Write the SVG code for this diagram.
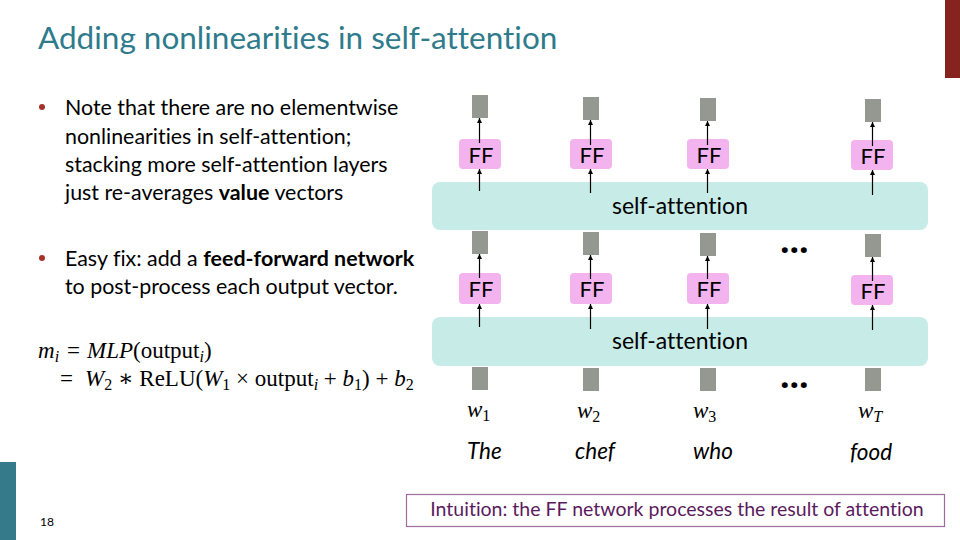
<svg xmlns="http://www.w3.org/2000/svg" width="960" height="540" viewBox="0 0 960 540">
<defs>
<marker id="ah" viewBox="0 0 10 10" refX="10" refY="5" markerWidth="5" markerHeight="6" orient="auto" markerUnits="userSpaceOnUse">
<path d="M0,0 L10,5 L0,10 z" fill="#000"/>
</marker>
</defs>
<style>
text{font-variant-ligatures:none;}
.t{font-family:Lato,"Open Sans","Liberation Sans",sans-serif;}
.body{font-size:21.4px;fill:#000;}
.vec{fill:#959891;}
.ff{fill:#F2B3EF;}
.ffl{font-family:Lato,"Open Sans","Liberation Sans",sans-serif;font-size:22px;fill:#000;text-anchor:middle;}
.sa{fill:#C7ECE7;}
.sal{font-family:Lato,"Open Sans","Liberation Sans",sans-serif;font-size:23px;fill:#000;text-anchor:middle;}
.ar{stroke:#000;stroke-width:1.2;fill:none;marker-end:url(#ah);}
.m{font-family:"Liberation Serif","DejaVu Serif",serif;font-size:23px;fill:#000;}
.wl{font-family:"Liberation Serif","DejaVu Serif",serif;font-size:23px;font-style:italic;fill:#000;}
.word{font-family:Lato,"Open Sans","Liberation Sans",sans-serif;font-size:22.5px;font-style:italic;fill:#000;}
.dots{font-family:"Noto Sans","Open Sans",sans-serif;font-size:34px;font-weight:bold;fill:#000;}
</style>
<rect x="0" y="0" width="960" height="540" fill="#fff"/>
<rect x="945" y="0" width="15" height="78" fill="#87231F"/>
<rect x="0" y="462" width="16" height="78" fill="#357A8A"/>
<text x="38" y="49" class="t" font-size="31.5" fill="#2F7B8C">Adding nonlinearities in self-attention</text>
<text x="40" y="526" class="t" font-size="12" fill="#000">18</text>

<g id="bullets">
<circle cx="42" cy="107" r="3" fill="#A3322A"/>
<text class="t body" x="65" y="115">Note that there are no elementwise</text>
<text class="t body" x="65" y="143.5">nonlinearities in self-attention;</text>
<text class="t body" x="65" y="172">stacking more self-attention layers</text>
<text class="t body" x="65" y="200">just re-averages <tspan font-weight="bold">value</tspan> vectors</text>
<circle cx="42" cy="258" r="3" fill="#A3322A"/>
<text class="t body" x="65" y="266">Easy fix: add a <tspan font-weight="bold">feed-forward network</tspan></text>
<text class="t body" x="65" y="294">to post-process each output vector.</text>
</g>

<g id="formula">
<text class="m" x="38" y="358"><tspan font-style="italic">m</tspan><tspan font-style="italic" font-size="16" dy="4">i</tspan><tspan x="67" dy="-4">=</tspan><tspan x="87" font-style="italic">MLP</tspan>(output<tspan font-style="italic" font-size="16" dy="4">i</tspan><tspan dy="-4">)</tspan></text>
<text class="m" x="60" y="386">=<tspan x="85" font-style="italic">W</tspan><tspan font-size="16" dy="4">2</tspan><tspan dy="-4"> ∗ ReLU(</tspan><tspan font-style="italic">W</tspan><tspan font-size="16" dy="4">1</tspan><tspan dy="-4"> × output</tspan><tspan font-style="italic" font-size="16" dy="4">i</tspan><tspan dy="-4"> + </tspan><tspan font-style="italic">b</tspan><tspan font-size="16" dy="4">1</tspan><tspan dy="-4">) + </tspan><tspan font-style="italic">b</tspan><tspan font-size="16" dy="4">2</tspan></text>
</g>

<g id="selfattn-top">
<rect class="sa" x="432" y="182" width="496" height="48" rx="8"/>
<text class="sal" x="680" y="214">self-attention</text>
</g>
<g id="selfattn-bottom">
<rect class="sa" x="432" y="317" width="496" height="49" rx="8"/>
<text class="sal" x="680" y="349">self-attention</text>
</g>

<g id="vectors-top">
<rect class="vec" x="472" y="95" width="16" height="23"/>
<rect class="vec" x="583" y="97" width="16" height="23"/>
<rect class="vec" x="700" y="98" width="16" height="23"/>
<rect class="vec" x="865" y="99" width="16" height="23"/>
</g>
<g id="vectors-mid">
<rect class="vec" x="472" y="231" width="16" height="23"/>
<rect class="vec" x="583" y="232" width="16" height="23"/>
<rect class="vec" x="700" y="233" width="16" height="23"/>
<rect class="vec" x="865" y="234" width="16" height="23"/>
</g>
<g id="vectors-bottom">
<rect class="vec" x="472" y="367" width="16" height="23"/>
<rect class="vec" x="583" y="368" width="16" height="23"/>
<rect class="vec" x="700" y="368" width="16" height="23"/>
<rect class="vec" x="865" y="368" width="16" height="23"/>
</g>

<g id="ff-top">
<rect class="ff" x="459" y="139" width="42" height="30" rx="4"/>
<rect class="ff" x="570" y="139" width="42" height="30" rx="4"/>
<rect class="ff" x="687" y="139" width="42" height="30" rx="4"/>
<rect class="ff" x="851" y="140" width="42" height="30" rx="4"/>
<text class="ffl" x="481" y="163">FF</text>
<text class="ffl" x="592" y="163">FF</text>
<text class="ffl" x="709" y="163">FF</text>
<text class="ffl" x="873" y="164">FF</text>
</g>
<g id="ff-mid">
<rect class="ff" x="459" y="273" width="42" height="31" rx="4"/>
<rect class="ff" x="570" y="273" width="42" height="31" rx="4"/>
<rect class="ff" x="687" y="273" width="42" height="31" rx="4"/>
<rect class="ff" x="851" y="275" width="42" height="30" rx="4"/>
<text class="ffl" x="481" y="297">FF</text>
<text class="ffl" x="592" y="297">FF</text>
<text class="ffl" x="709" y="297">FF</text>
<text class="ffl" x="873" y="299">FF</text>
</g>

<g id="connectors">
<line class="ar" x1="479.5" y1="143" x2="479.5" y2="118"/>
<line class="ar" x1="590.5" y1="145" x2="590.5" y2="120"/>
<line class="ar" x1="707.5" y1="145" x2="707.5" y2="121"/>
<line class="ar" x1="872.5" y1="146" x2="872.5" y2="122"/>
<line class="ar" x1="479.5" y1="191" x2="479.5" y2="169"/>
<line class="ar" x1="590.5" y1="193" x2="590.5" y2="169"/>
<line class="ar" x1="707.5" y1="193" x2="707.5" y2="169"/>
<line class="ar" x1="872.5" y1="195" x2="872.5" y2="170"/>
<line class="ar" x1="479.5" y1="278" x2="479.5" y2="254"/>
<line class="ar" x1="590.5" y1="279" x2="590.5" y2="255"/>
<line class="ar" x1="707.5" y1="279" x2="707.5" y2="256"/>
<line class="ar" x1="872.5" y1="281" x2="872.5" y2="257"/>
<line class="ar" x1="479.5" y1="327" x2="479.5" y2="304"/>
<line class="ar" x1="590.5" y1="329" x2="590.5" y2="304"/>
<line class="ar" x1="707.5" y1="329" x2="707.5" y2="304"/>
<line class="ar" x1="872.5" y1="330" x2="872.5" y2="305"/>
</g>

<g id="ellipses">
<text class="dots" x="780" y="253">...</text>
<text class="dots" x="780" y="388">...</text>
</g>

<g id="word-labels">
<text class="wl" x="467" y="417">w<tspan font-style="normal" font-size="16" dy="4">1</tspan></text>
<text class="wl" x="577" y="418">w<tspan font-style="normal" font-size="16" dy="4">2</tspan></text>
<text class="wl" x="693" y="418">w<tspan font-style="normal" font-size="16" dy="4">3</tspan></text>
<text class="wl" x="858" y="418">w<tspan font-size="16" dy="4">T</tspan></text>
<text class="word" x="467" y="459">The</text>
<text class="word" x="575" y="459">chef</text>
<text class="word" x="693" y="459">who</text>
<text class="word" x="850" y="460">food</text>
</g>

<g id="intuition">
<rect x="406.5" y="494.5" width="538" height="32" fill="#fff" stroke="#9C6C9C" stroke-width="1.2"/>
<text class="t" x="677" y="516" font-size="19.5" fill="#5B1A5E" text-anchor="middle">Intuition: the FF network processes the result of attention</text>
</g>
</svg>
